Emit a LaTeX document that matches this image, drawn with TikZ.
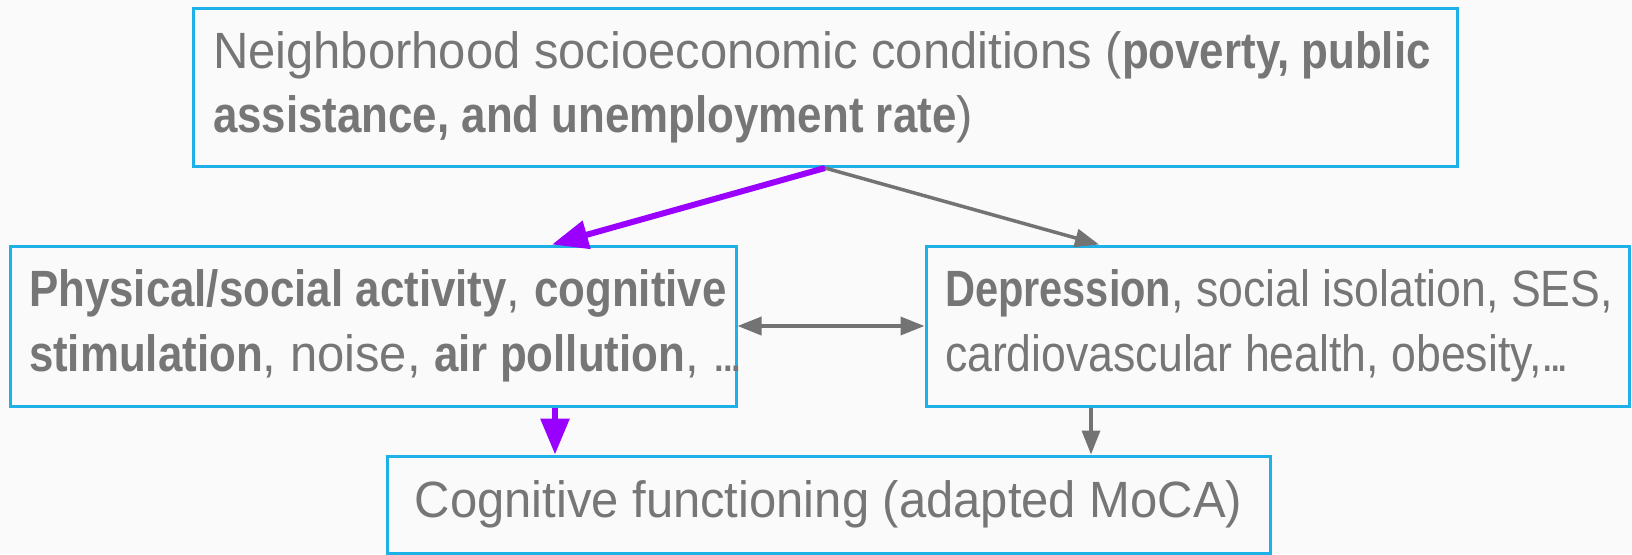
\documentclass[tikz,border=0pt]{standalone}
\usepackage{fontspec}
\setmainfont{Liberation Sans}[FakeStretch=0.96,
  BoldFont={Liberation Sans Bold}, BoldFeatures={FakeStretch=0.86}]
\newfontfamily\narrowsans{Liberation Sans}[FakeStretch=0.875,
  BoldFont={Liberation Sans Bold}, BoldFeatures={FakeStretch=0.815}]
\usetikzlibrary{arrows.meta}
\hyphenpenalty=10000
\frenchspacing
\newcommand\tightdots{.\kern-5pt.\kern-5pt.}

\definecolor{boxblue}{HTML}{1EB1E7}
\definecolor{linegray}{HTML}{737373}
\definecolor{linepurple}{HTML}{9900FF}
\definecolor{textgray}{HTML}{767676}
\definecolor{paper}{HTML}{FAFAFA}

\tikzset{
  factor/.style={draw=boxblue, line width=3pt, fill=paper, text=textgray,
    inner ysep=0pt, align=flush left, font=\fontsize{51}{64.5}\selectfont},
  purplearrow/.style={linepurple, line width=6pt, -{Triangle[length=36pt, width=28pt]}},
  grayarrow/.style={linegray, line width=3.5pt, -{Triangle[length=24pt, width=18pt]}},
}

\begin{document}
\begin{tikzpicture}[x=1pt, y=-1pt]
  \fill [paper] (0, 0) rectangle (1632, 554);
  \useasboundingbox (0, 0) rectangle (1632, 554);

  \node [factor, minimum width=1264pt, minimum height=158pt, inner xsep=20pt,
    text width=1224pt] (socio) at (825, 87.5)
    {\mbox{Neighborhood socioeconomic conditions (\textbf{poverty, public}}\\
     \textbf{assistance, and unemployment rate})};
  \node [factor, minimum width=726pt, minimum height=160pt, inner xsep=19pt,
    text width=688pt] (phys) at (373, 326)
    {\mbox{\textbf{Physical/social activity}, \textbf{cognitive}}\\
     \mbox{\textbf{stimulation}, noise, \textbf{air pollution}, \tightdots}};
  \node [factor, minimum width=703pt, minimum height=160pt, inner xsep=19pt,
    text width=665pt, font=\fontsize{51}{64.5}\narrowsans] (dep) at (1277.5, 326)
    {\mbox{\textbf{Depression}, social isolation, SES,}\\
     \mbox{cardiovascular health, obesity,\tightdots}};
  \node [factor, minimum width=883pt, minimum height=97pt, align=center]
    (moca) at (828.5, 504.5)
    {Cognitive functioning (adapted MoCA)};

  % arrows out of the neighborhood box
  \draw [purplearrow] (socio.south) -- ([xshift=179pt]phys.north);
  \draw [grayarrow] (socio.south) -- ([xshift=-178.5pt]dep.north);

  \draw [linegray, line width=3.5pt,
    {Triangle[length=24pt, width=18pt]}-{Triangle[length=24pt, width=18pt]}]
    (phys.east) -- (dep.west);

  % arrows into the MoCA box
  \coordinate (pa) at ([xshift=182pt]phys.south);
  \coordinate (da) at ([xshift=-186.5pt]dep.south);
  \draw [purplearrow] (pa) -- (pa |- moca.north);
  \draw [grayarrow] (da) -- (da |- moca.north);
\end{tikzpicture}
\end{document}
